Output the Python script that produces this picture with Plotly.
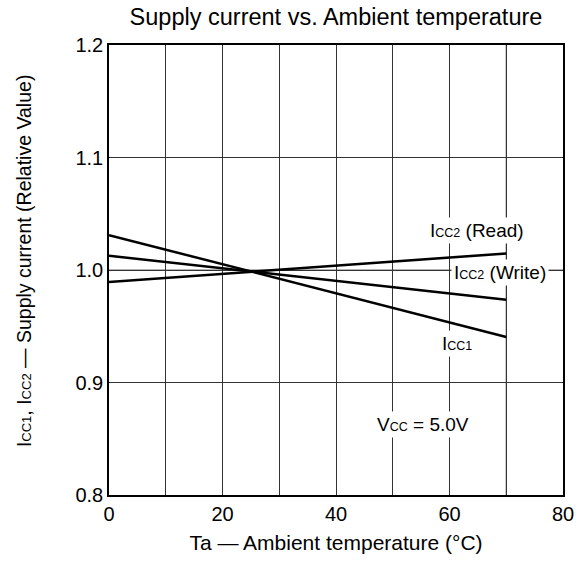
import plotly.graph_objects as go

# Data
temp_c = [0, 70]
icc1 = [1.031, 0.9405]
icc2_write = [1.0127, 0.9735]
icc2_read = [0.9894, 1.0147]

x_ticks = [0, 20, 40, 60, 80]
y_ticks = [0.8, 0.9, 1.0, 1.1, 1.2]
y_tick_text = ["0.8", "0.9", "1.0", "1.1", "1.2"]

FONT = "Liberation Sans, Arial, sans-serif"


def small(t, size=12.5):
    return "<span style='font-size:%spx'>%s</span>" % (size, t)


fig = go.Figure()
for ys in (icc1, icc2_write, icc2_read):
    fig.add_trace(go.Scatter(x=temp_c, y=ys, mode="lines",
                             line=dict(color="black", width=2.5),
                             showlegend=False, hoverinfo="skip"))

# gray reference lines
fig.add_shape(type="line", xref="x", yref="y", x0=0, x1=80, y0=1.0, y1=1.0,
              line=dict(color="#9a9a9a", width=1.5), layer="below")
fig.add_shape(type="line", xref="x", yref="y", x0=70, x1=70, y0=0.8, y1=1.2,
              line=dict(color="#9a9a9a", width=1.5), layer="below")


def ann(x, y, text):
    fig.add_annotation(x=x, y=y, xref="x", yref="y", text=text, showarrow=False,
                       font=dict(family=FONT, size=19, color="black"),
                       bgcolor="white", borderpad=2)


ann(64.8, 1.035, "I" + small("CC2") + " (Read)")
ann(68.9, 0.9975, "I" + small("CC2") + " (Write)")
ann(61.3, 0.935, "I" + small("CC1"))
ann(55.4, 0.8623, "V" + small("CC") + " = 5.0V")

# y-axis title
fig.add_annotation(x=-0.187, y=0.52, xref="paper", yref="paper",
                   text="I" + small("CC1", 13) + ", I" + small("CC2", 13) +
                   " — Supply current (Relative Value)",
                   textangle=-90, showarrow=False, xanchor="center", yanchor="middle",
                   font=dict(family=FONT, size=19.5, color="black"))

fig.update_layout(
    width=588, height=563,
    margin=dict(l=109, r=25, t=45, b=65),
    paper_bgcolor="white", plot_bgcolor="white",
    font=dict(family=FONT, size=20, color="black"),
    title=dict(text="Supply current vs. Ambient temperature",
               x=0.5, xref="paper", y=0.97, yref="container",
               xanchor="center", yanchor="middle",
               font=dict(family=FONT, size=23.5, color="black")),
)
fig.update_xaxes(range=[0, 80], tickvals=x_ticks, ticks="", showline=True,
                 linecolor="black", linewidth=1.5, mirror=True,
                 showgrid=True, gridcolor="#333333", gridwidth=1,
                 minor=dict(dtick=10, showgrid=True, gridcolor="#333333", gridwidth=1),
                 zeroline=False,
                 title=dict(text="Ta — Ambient temperature (°C)", standoff=12,
                            font=dict(size=21)),
                 tickfont=dict(size=20))
fig.update_yaxes(range=[0.8, 1.2], tickvals=y_ticks, ticktext=y_tick_text, ticks="",
                 showline=True, linecolor="black", linewidth=1.5, mirror=True,
                 showgrid=True, gridcolor="#333333", gridwidth=1, zeroline=False,
                 tickfont=dict(size=20))

fig.write_html("out.html")
